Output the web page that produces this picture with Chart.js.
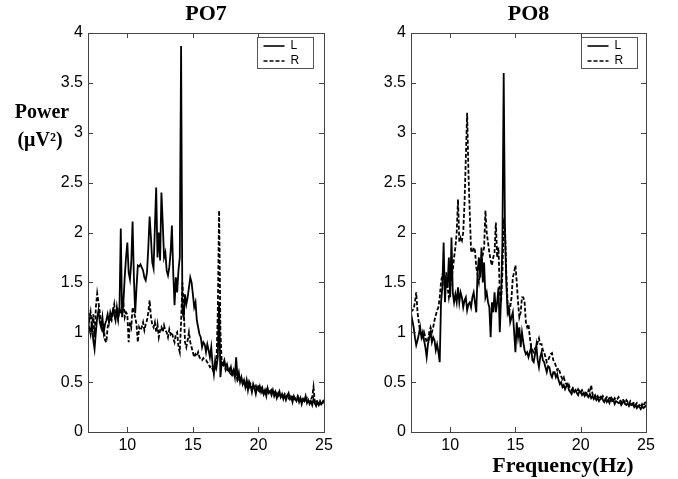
<!DOCTYPE html>
<html>
<head>
<meta charset="utf-8">
<script src="https://cdn.jsdelivr.net/npm/chart.js@4.4.0/dist/chart.umd.min.js"></script>
<style>
  html, body { margin: 0; padding: 0; background: #fff; }
  #wrap { position: relative; width: 678px; height: 479px; overflow: hidden; }
  canvas { position: absolute; top: 0; }
</style>
</head>
<body>
<div id="wrap">
  <canvas id="po7" width="340" height="479" style="left:0px"></canvas>
  <canvas id="po8" width="338" height="479" style="left:340px"></canvas>
</div>
<script>
// Spectra sampled every 0.1 Hz from 7 to 25 Hz
const freqStart = 7;
const freqStep = 0.1;
const xTickValues = [10, 15, 20, 25];
const yTickValues = [0, 0.5, 1, 1.5, 2, 2.5, 3, 3.5, 4];
const seriesLabels = ["L", "R"];
const panelTitles = ["PO7", "PO8"];

const po7L = [
  1.08, 1.05, 0.98, 1.10, 0.92, 0.83, 1.00, 1.15, 1.22, 1.10,
  1.05, 1.15, 1.00, 1.08, 1.12, 1.18, 1.10, 1.20, 1.15, 1.22,
  1.18, 1.12, 1.25, 1.15, 1.22, 2.04, 1.15, 1.30, 1.55, 1.75,
  1.90, 1.60, 1.53, 1.70, 2.11, 1.55, 1.19, 1.45, 1.67, 1.66,
  1.68, 1.65, 1.62, 1.55, 1.52, 1.60, 1.85, 2.16, 1.95, 1.70,
  1.64, 2.05, 2.45, 1.75, 2.00, 1.72, 2.40, 2.10, 1.75, 1.80,
  1.62, 1.57, 1.65, 1.80, 2.07, 1.60, 1.27, 1.55, 1.40, 1.62,
  1.75, 3.87, 1.20, 1.15, 1.38, 1.28, 1.35, 1.45, 1.55, 1.50,
  1.38, 1.25, 1.30, 1.12, 1.05, 0.98, 0.95, 0.85, 0.90, 0.88,
  0.80, 0.88, 0.82, 0.75, 0.85, 0.68, 0.58, 0.72, 0.65, 0.75,
  1.30, 0.55, 0.70, 0.68, 0.72, 0.65, 0.68, 0.62, 0.60, 0.65,
  0.58, 0.62, 0.55, 0.75, 0.55, 0.60, 0.50, 0.55, 0.48, 0.52,
  0.45, 0.52, 0.42, 0.50, 0.46, 0.40, 0.48, 0.44, 0.38, 0.45,
  0.42, 0.46, 0.40, 0.44, 0.38, 0.42, 0.36, 0.44, 0.39, 0.41,
  0.37, 0.42, 0.36, 0.40, 0.34, 0.38, 0.41, 0.35, 0.38, 0.33,
  0.37, 0.32, 0.36, 0.39, 0.33, 0.35, 0.30, 0.36, 0.33, 0.31,
  0.35, 0.30, 0.34, 0.28, 0.33, 0.31, 0.36, 0.29, 0.32, 0.28,
  0.31, 0.27, 0.33, 0.29, 0.26, 0.30, 0.27, 0.31, 0.28, 0.30,
  0.32
];

const po7R = [
  1.25, 1.12, 1.20, 1.05, 1.18, 0.95, 1.25, 1.39, 1.30, 1.20,
  1.10, 1.02, 1.05, 0.92, 0.90, 1.05, 1.10, 1.15, 1.12, 1.20,
  1.28, 1.15, 1.20, 1.12, 1.25, 1.18, 1.22, 1.30, 1.15, 1.20,
  1.18, 0.90, 1.10, 1.05, 1.25, 1.20, 1.15, 1.08, 0.90, 1.05,
  1.02, 1.05, 1.10, 1.02, 1.08, 1.12, 1.20, 1.32, 1.15, 1.08,
  1.05, 1.10, 1.00, 1.08, 0.95, 1.02, 1.05, 1.00, 1.07, 1.02,
  1.00, 0.95, 1.03, 0.98, 1.00, 0.94, 0.90, 0.98, 1.00, 0.85,
  0.80, 1.10, 1.50, 1.25, 0.90, 0.85, 0.92, 1.00, 0.90, 0.85,
  0.80, 0.75, 0.78, 0.76, 0.80, 0.75, 0.73, 0.72, 0.74, 0.72,
  0.72, 0.70, 0.68, 0.65, 0.66, 0.63, 0.60, 0.64, 0.70, 1.20,
  2.22, 1.00, 0.70, 0.65, 0.68, 0.62, 0.65, 0.60, 0.63, 0.58,
  0.57, 0.60, 0.55, 0.58, 0.52, 0.55, 0.50, 0.53, 0.48, 0.50,
  0.49, 0.46, 0.50, 0.45, 0.48, 0.44, 0.47, 0.43, 0.46, 0.42,
  0.45, 0.41, 0.44, 0.40, 0.43, 0.39, 0.42, 0.38, 0.41, 0.40,
  0.42, 0.38, 0.40, 0.37, 0.39, 0.36, 0.38, 0.35, 0.37, 0.36,
  0.38, 0.35, 0.37, 0.34, 0.36, 0.33, 0.35, 0.32, 0.34, 0.33,
  0.36, 0.32, 0.34, 0.31, 0.33, 0.30, 0.32, 0.34, 0.31, 0.30,
  0.33, 0.35, 0.45, 0.30, 0.32, 0.29, 0.31, 0.28, 0.30, 0.29,
  0.33
];

const po8L = [
  1.19, 1.12, 1.05, 0.95, 0.87, 0.92, 0.98, 1.05, 0.95, 1.00,
  0.92, 0.85, 0.75, 0.88, 0.95, 1.00, 0.90, 0.95, 0.92, 0.82,
  0.88, 0.80, 0.70, 1.30, 1.45, 1.90, 1.30, 1.55, 1.45, 1.75,
  1.35, 1.95, 1.40, 1.30, 1.38, 1.30, 1.45, 1.30, 1.40, 1.35,
  1.25, 1.32, 1.35, 1.22, 1.28, 1.30, 1.25, 1.35, 1.40, 1.30,
  1.20, 1.60, 1.75, 1.55, 1.85, 1.50, 1.70, 1.35, 1.40, 1.30,
  1.25, 0.95, 1.30, 1.20, 1.40, 1.20, 1.30, 1.45, 1.00, 1.35,
  1.90, 3.60, 2.00, 1.50, 1.20, 1.25, 1.10, 1.15, 1.20, 1.00,
  0.80, 1.10, 0.95, 1.05, 0.85, 1.00, 0.90, 0.82, 0.78, 0.80,
  0.75, 0.80, 0.85, 0.72, 0.70, 0.78, 0.87, 0.72, 0.65, 0.75,
  0.80, 0.72, 0.70, 0.65, 0.60, 0.66, 0.65, 0.58, 0.55, 0.60,
  0.60, 0.55, 0.58, 0.52, 0.48, 0.50, 0.45, 0.47, 0.43, 0.46,
  0.48, 0.42, 0.40, 0.38, 0.43, 0.40, 0.42, 0.39, 0.37, 0.41,
  0.40, 0.37, 0.39, 0.36, 0.38, 0.37, 0.35, 0.38, 0.34, 0.36,
  0.33, 0.35, 0.32, 0.34, 0.31, 0.33, 0.35, 0.32, 0.30, 0.33,
  0.30, 0.32, 0.29, 0.33, 0.31, 0.32, 0.28, 0.31, 0.30, 0.29,
  0.30, 0.27, 0.29, 0.31, 0.28, 0.27, 0.29, 0.26, 0.28, 0.27,
  0.28, 0.25, 0.27, 0.24, 0.26, 0.25, 0.23, 0.26, 0.24, 0.25,
  0.27
];

const po8R = [
  1.20, 1.22, 1.23, 1.30, 1.40, 1.20, 1.10, 1.00, 0.98, 0.95,
  1.00, 0.95, 0.90, 0.92, 1.00, 1.05, 1.00, 1.05, 1.12, 1.17,
  1.22, 1.25, 1.35, 1.50, 1.58, 1.60, 1.40, 1.60, 1.45, 1.35,
  1.45, 1.55, 1.62, 1.75, 1.85, 2.00, 2.33, 1.90, 1.95, 1.92,
  2.00, 2.30, 2.75, 3.20, 2.60, 2.20, 1.82, 1.80, 1.85, 1.82,
  1.65, 1.58, 1.50, 1.62, 1.70, 1.78, 1.85, 2.22, 2.00, 1.90,
  1.80, 1.72, 1.67, 1.75, 1.80, 2.10, 1.75, 1.85, 1.40, 1.30,
  1.60, 2.10, 2.05, 1.60, 1.30, 1.20, 1.25, 1.35, 1.55, 1.60,
  1.67, 1.50, 1.30, 1.15, 1.20, 1.35, 1.35, 1.30, 1.10, 1.05,
  1.08, 0.95, 0.85, 0.82, 0.80, 0.84, 0.85, 0.90, 0.94, 0.88,
  0.88, 0.82, 0.80, 0.75, 0.70, 0.72, 0.75, 0.78, 0.79, 0.72,
  0.70, 0.66, 0.62, 0.64, 0.60, 0.56, 0.53, 0.55, 0.50, 0.48,
  0.45, 0.47, 0.43, 0.42, 0.44, 0.41, 0.42, 0.40, 0.43, 0.41,
  0.40, 0.42, 0.39, 0.38, 0.41, 0.37, 0.42, 0.40, 0.47, 0.38,
  0.35, 0.37, 0.34, 0.36, 0.33, 0.35, 0.32, 0.36, 0.34, 0.33,
  0.35, 0.32, 0.34, 0.36, 0.33, 0.31, 0.34, 0.32, 0.33, 0.35,
  0.32, 0.30, 0.33, 0.31, 0.29, 0.32, 0.30, 0.28, 0.31, 0.29,
  0.28, 0.30, 0.27, 0.29, 0.26, 0.27, 0.25, 0.28, 0.26, 0.29,
  0.30
];

const freqs = po7L.map((_, i) => +(freqStart + i * freqStep).toFixed(1));

const tickFont = { family: "Liberation Sans, Arial, sans-serif", size: 16 };
const serifBold = (size) => `bold ${size}px "Liberation Serif", "Times New Roman", serif`;

// MATLAB-like box: frame, inward ticks on all sides, inset legend, extra labels
const boxPlugin = {
  id: "matlabBox",
  afterDraw(chart, args, opts) {
    const { ctx, chartArea: a, scales: { x, y } } = chart;
    ctx.save();
    ctx.strokeStyle = "#444";
    ctx.lineWidth = 1;
    ctx.strokeRect(Math.round(a.left) + 0.5, Math.round(a.top) + 0.5,
      Math.round(a.width), Math.round(a.height));

    const tl = 5;
    ctx.beginPath();
    x.ticks.forEach((t) => {
      const px = Math.round(x.getPixelForValue(t.value)) + 0.5;
      ctx.moveTo(px, a.bottom); ctx.lineTo(px, a.bottom - tl);
      ctx.moveTo(px, a.top); ctx.lineTo(px, a.top + tl);
    });
    y.ticks.forEach((t) => {
      const py = Math.round(y.getPixelForValue(t.value)) + 0.5;
      ctx.moveTo(a.left, py); ctx.lineTo(a.left + tl, py);
      ctx.moveTo(a.right, py); ctx.lineTo(a.right - tl, py);
    });
    ctx.stroke();

    // legend box
    const lw = 56, lh = 31;
    const lx = Math.round(a.right - opts.legendRight - lw) + 0.5;
    const ly = Math.round(a.top + 4) + 0.5;
    ctx.fillStyle = "#fff";
    ctx.fillRect(lx, ly, lw, lh);
    ctx.strokeStyle = "#555";
    ctx.strokeRect(lx, ly, lw, lh);
    chart.data.datasets.forEach((ds, i) => {
      const yy = ly + 8.5 + i * 15;
      ctx.strokeStyle = "#000";
      ctx.lineWidth = 1.6;
      ctx.setLineDash(ds.borderDash || []);
      ctx.beginPath();
      ctx.moveTo(lx + 6, yy); ctx.lineTo(lx + 27, yy);
      ctx.stroke();
      ctx.setLineDash([]);
      ctx.fillStyle = "#000";
      ctx.font = "12px Liberation Sans, Arial, sans-serif";
      ctx.textAlign = "left";
      ctx.textBaseline = "middle";
      ctx.fillText(ds.label, lx + 33, yy);
    });

    // panel title
    ctx.fillStyle = "#000";
    ctx.font = serifBold(22);
    ctx.textAlign = "center";
    ctx.textBaseline = "middle";
    ctx.fillText(opts.title, (a.left + a.right) / 2, 14);

    (opts.labels || []).forEach((l) => {
      ctx.font = serifBold(l.size);
      ctx.fillText(l.text, l.x, l.y);
    });
    ctx.restore();
  }
};

function makePanel(id, title, dataL, dataR, areaLeft, areaRight, legendRight, labels) {
  const canvas = document.getElementById(id);
  return new Chart(canvas, {
    type: "line",
    data: {
      datasets: [
        {
          label: seriesLabels[0],
          data: freqs.map((f, i) => ({ x: f, y: dataL[i] })),
          borderColor: "#000",
          borderWidth: 1.8,
          borderDash: [],
          pointRadius: 0,
          tension: 0,
        },
        {
          label: seriesLabels[1],
          data: freqs.map((f, i) => ({ x: f, y: dataR[i] })),
          borderColor: "#000",
          borderWidth: 1.8,
          borderDash: [4, 2],
          pointRadius: 0,
          tension: 0,
        },
      ],
    },
    options: {
      responsive: false,
      animation: false,
      layout: { padding: { top: 33, right: canvas.width - areaRight, left: 0, bottom: 0 } },
      scales: {
        x: {
          type: "linear",
          min: 7,
          max: 25,
          afterBuildTicks: (s) => { s.ticks = xTickValues.map((v) => ({ value: v })); },
          afterFit: (s) => { s.height = 47; },
          grid: { display: false, drawTicks: false },
          border: { display: false },
          ticks: { font: tickFont, color: "#000", padding: 4, maxRotation: 0, callback: (v) => String(v) },
        },
        y: {
          min: 0,
          max: 4,
          afterBuildTicks: (s) => { s.ticks = yTickValues.map((v) => ({ value: v })); },
          afterFit: (s) => { s.width = areaLeft; },
          grid: { display: false, drawTicks: false },
          border: { display: false },
          ticks: { font: tickFont, color: "#000", padding: 5, callback: (v) => String(v) },
        },
      },
      plugins: {
        legend: { display: false },
        tooltip: { enabled: false },
        matlabBox: { title, legendRight, labels },
      },
    },
    plugins: [boxPlugin],
  });
}

makePanel("po7", panelTitles[0], po7L, po7R, 88, 324, 11, [
  { text: "Power", x: 42, y: 113, size: 20 },
  { text: "(\u03bcV\u00b2)", x: 40, y: 141, size: 20 },
]);
makePanel("po8", panelTitles[1], po8L, po8R, 71, 306, 9, [
  { text: "Frequency(Hz)", x: 223, y: 466, size: 22 },
]);
</script>
</body>
</html>
